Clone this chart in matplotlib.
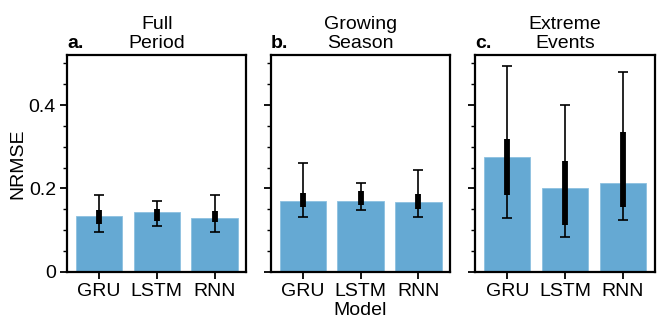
import numpy as np
import matplotlib.pyplot as plt
from matplotlib.ticker import MultipleLocator

plt.rcParams['font.family'] = ['Liberation Sans', 'DejaVu Sans']

models = ["GRU", "LSTM", "RNN"]
panels = ["a.", "b.", "c."]
titles = ["Full\nPeriod", "Growing\nSeason", "Extreme\nEvents"]
yticks = [0, 0.2, 0.4]
ytick_labels = ["0", "0.2", "0.4"]

# bar heights (mean NRMSE)
bar_vals = [
    [0.134, 0.143, 0.129],
    [0.170, 0.169, 0.168],
    [0.275, 0.200, 0.213],
]
# whisker ends
whisk_lo = [
    [0.096, 0.110, 0.095],
    [0.132, 0.149, 0.132],
    [0.128, 0.084, 0.123],
]
whisk_hi = [
    [0.184, 0.170, 0.184],
    [0.260, 0.213, 0.244],
    [0.494, 0.400, 0.480],
]
# box (interquartile) ends
box_lo = [
    [0.114, 0.122, 0.118],
    [0.154, 0.161, 0.150],
    [0.183, 0.113, 0.156],
]
box_hi = [
    [0.148, 0.150, 0.146],
    [0.188, 0.194, 0.186],
    [0.318, 0.266, 0.335],
]

bar_color = "#65a9d3"
fs = 14

fig = plt.figure(figsize=(6.64, 3.32), dpi=100)
lefts = [0.101, 0.408, 0.716]
axes = [fig.add_axes([l, 0.182, 0.270, 0.652]) for l in lefts]

x = np.arange(len(models))
for i, ax in enumerate(axes):
    ax.bar(x, bar_vals[i], width=0.8, color=bar_color, edgecolor="#8cc0e0", linewidth=0.6)
    lo = np.array(whisk_lo[i])
    hi = np.array(whisk_hi[i])
    mid = (lo + hi) / 2
    ax.errorbar(x, mid, yerr=[mid - lo, hi - mid], fmt="none", ecolor="black",
                elinewidth=1.2, capsize=3.6, capthick=1.2)
    ax.vlines(x, box_lo[i], box_hi[i], color="black", linewidth=4.2)

    ax.set_xlim(-0.55, 2.55)
    ax.set_ylim(0, 0.52)
    ax.set_yticks(yticks)
    ax.yaxis.set_minor_locator(MultipleLocator(0.05))
    ax.set_xticks(x)
    ax.set_xticklabels(models, fontsize=fs)
    ax.tick_params(axis="both", which="major", length=5, width=1.3, labelsize=fs, pad=3)
    ax.tick_params(axis="y", which="minor", length=3, width=1.0)
    for sp in ax.spines.values():
        sp.set_linewidth(1.6)
    if i == 0:
        ax.set_yticklabels(ytick_labels)
        ax.set_ylabel("NRMSE", fontsize=fs, labelpad=2)
    else:
        ax.set_yticklabels([])
    if i == 1:
        ax.set_xlabel("Model", fontsize=fs, labelpad=2)
    ax.set_title(titles[i], fontsize=fs, linespacing=1.15, pad=5)
    ax.set_title(panels[i], loc="left", fontsize=fs, fontweight="bold", pad=5)

fig.savefig("out.png", dpi=100)
